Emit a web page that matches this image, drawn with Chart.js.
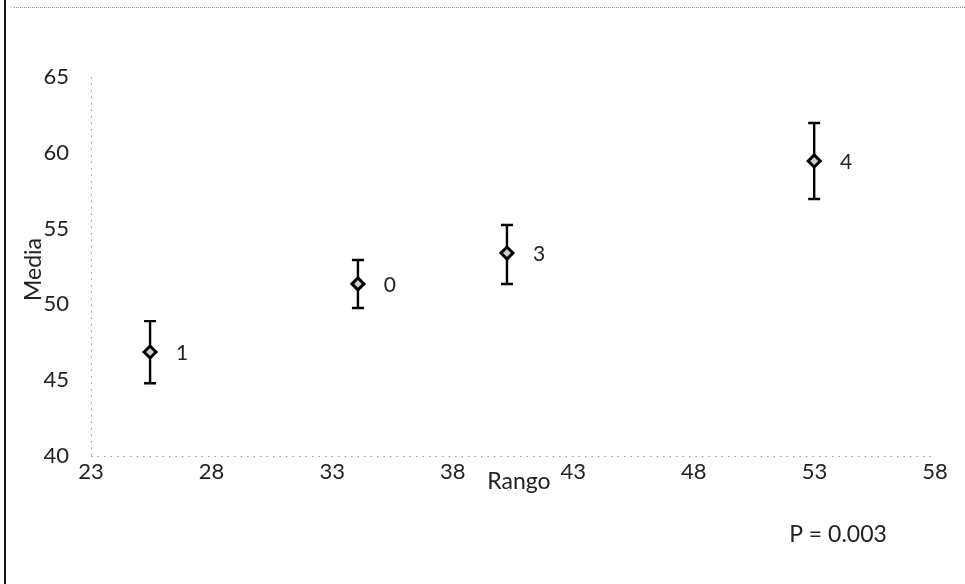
<!DOCTYPE html>
<html>
<head>
<meta charset="utf-8">
<script src="https://cdn.jsdelivr.net/npm/chart.js@4/dist/chart.umd.min.js"></script>
<style>
  html, body { margin: 0; padding: 0; background: #fff; }
  #wrap { position: relative; width: 965px; height: 584px; overflow: hidden; }
  #frameLeft { position: absolute; left: 4px; top: 0; width: 2px; height: 584px; background: #111; }
  #frameTop { position: absolute; left: 14px; right: 0; top: 7px; border-top: 1px dotted #888; }
  canvas { position: absolute; left: 0; top: 0; }
</style>
</head>
<body>
<div id="wrap">
  <canvas id="c" width="965" height="584"></canvas>
  <div id="frameLeft"></div>
  <div id="frameTop"></div>
</div>
<script>
// Group labels, mean age range (x) and mean score (y) with error limits
const groups  = ['1', '0', '3', '4'];
const rango   = [25.45, 34.07, 40.25, 52.99];
const media   = [46.86, 51.35, 53.39, 59.46];
const errLow  = [44.80, 49.76, 51.35, 56.95];
const errHigh = [48.90, 52.93, 55.24, 61.97];

const xTicks = [23, 28, 33, 38, 43, 48, 53, 58];
const yTicks = [40, 45, 50, 55, 60, 65];

const FONT = 'Lato, "Open Sans", sans-serif';
const TEXT = '#222';

const points = rango.map((x, i) => ({ x: x, y: media[i] }));

// Dotted axis lines, error bars with caps, group labels and titles
const errorBars = {
  id: 'errorBars',
  beforeDatasetsDraw(chart) {
    const { ctx, chartArea: a, scales: { x, y } } = chart;
    ctx.save();
    ctx.strokeStyle = '#9a9a9a';
    ctx.lineWidth = 1;
    ctx.setLineDash([1.5, 5]);
    ctx.beginPath();
    ctx.moveTo(a.left + 0.5, a.top); ctx.lineTo(a.left + 0.5, a.bottom);
    ctx.moveTo(a.left, a.bottom + 0.5); ctx.lineTo(a.right, a.bottom + 0.5);
    ctx.stroke();
    ctx.setLineDash([]);

    ctx.strokeStyle = '#000';
    ctx.lineWidth = 2.4;
    rango.forEach((v, i) => {
      const px = x.getPixelForValue(v);
      const top = y.getPixelForValue(errHigh[i]);
      const bot = y.getPixelForValue(errLow[i]);
      ctx.beginPath();
      ctx.moveTo(px, top); ctx.lineTo(px, bot);
      ctx.moveTo(px - 6, top); ctx.lineTo(px + 6, top);
      ctx.moveTo(px - 6, bot); ctx.lineTo(px + 6, bot);
      ctx.stroke();
    });
    ctx.restore();
  },
  afterDatasetsDraw(chart) {
    const { ctx } = chart;
    const meta = chart.getDatasetMeta(0);
    ctx.save();
    ctx.fillStyle = TEXT;
    ctx.font = '21px ' + FONT;
    ctx.textAlign = 'center';
    ctx.textBaseline = 'middle';
    meta.data.forEach((el, i) => {
      ctx.fillText(groups[i], el.x + 32, el.y + 1);
    });
    ctx.restore();
  },
  afterDraw(chart) {
    const { ctx, chartArea: a } = chart;
    ctx.save();
    ctx.fillStyle = TEXT;
    ctx.font = '23px ' + FONT;
    ctx.textAlign = 'center';
    ctx.textBaseline = 'middle';
    // x-axis title
    ctx.fillText('Rango', (a.left + a.right) / 2 + 6, a.bottom + 26);
    // significance note
    ctx.fillText('P = 0.003', 838, a.bottom + 79);
    // y-axis title, rotated
    ctx.translate(34, (a.top + a.bottom) / 2 + 3);
    ctx.rotate(-Math.PI / 2);
    ctx.fillText('Media', 0, 0);
    ctx.restore();
  }
};

new Chart(document.getElementById('c'), {
  type: 'scatter',
  data: {
    datasets: [{
      data: points,
      pointStyle: 'rectRot',
      pointRadius: 6,
      pointBorderWidth: 3,
      pointBorderColor: '#000',
      pointBackgroundColor: '#cfcfcf',
      showLine: false
    }]
  },
  options: {
    responsive: false,
    animation: false,
    events: [],
    layout: { padding: { left: 0, right: 30, top: 77, bottom: 98 } },
    plugins: { legend: { display: false }, tooltip: { enabled: false } },
    scales: {
      x: {
        type: 'linear',
        min: xTicks[0],
        max: xTicks[xTicks.length - 1],
        afterBuildTicks(scale) { scale.ticks = xTicks.map(v => ({ value: v })); },
        afterFit(scale) { scale.height = 30; },
        grid: { display: false, drawTicks: false },
        border: { display: false },
        ticks: { color: TEXT, font: { family: FONT, size: 22 }, padding: 3, maxRotation: 0 }
      },
      y: {
        type: 'linear',
        min: yTicks[0],
        max: yTicks[yTicks.length - 1],
        afterBuildTicks(scale) { scale.ticks = yTicks.map(v => ({ value: v })); },
        afterFit(scale) { scale.width = 91; },
        grid: { display: false, drawTicks: false },
        border: { display: false },
        ticks: { color: TEXT, font: { family: FONT, size: 22 }, padding: 22 }
      }
    }
  },
  plugins: [errorBars]
});
</script>
</body>
</html>
